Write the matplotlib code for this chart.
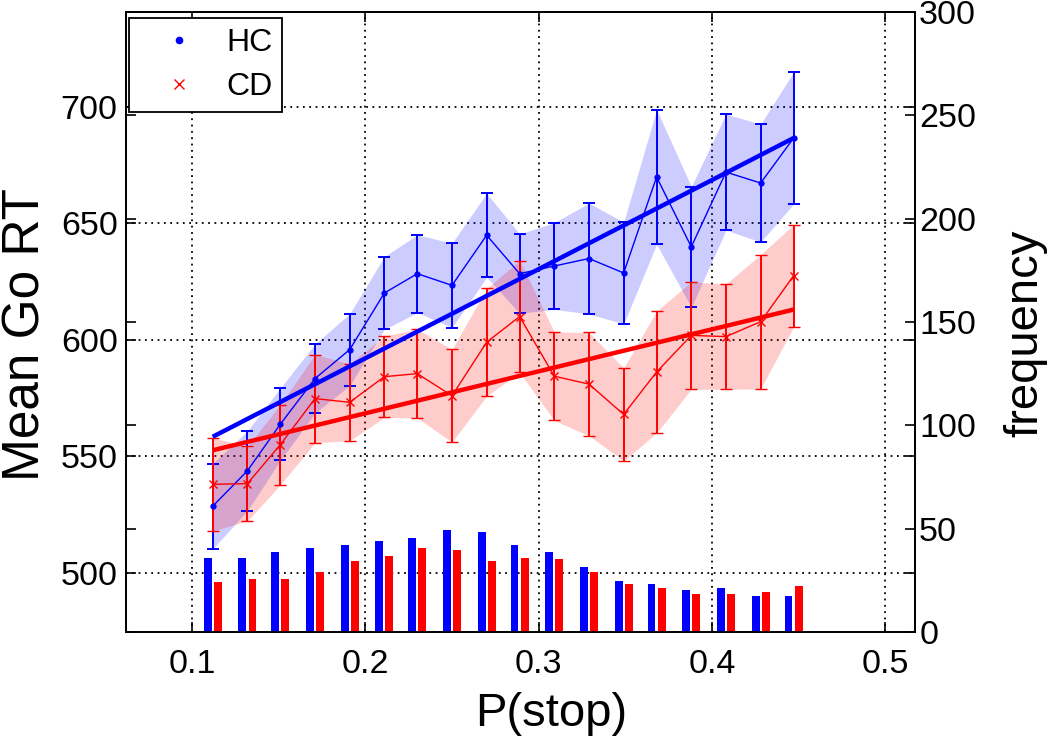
import matplotlib
matplotlib.use("Agg")
import matplotlib.pyplot as plt
from matplotlib.lines import Line2D
import numpy as np

plt.rcParams['font.family'] = ['Liberation Sans', 'DejaVu Sans']

# ---- data ----
p_stop = [0.112, 0.132, 0.151, 0.171, 0.191, 0.211, 0.230, 0.250, 0.270,
          0.289, 0.309, 0.329, 0.349, 0.368, 0.388, 0.408, 0.428, 0.447]

hc_mean = [528.6, 543.8, 563.8, 583.4, 595.8, 620.1, 628.4, 623.4, 644.9,
           628.4, 631.7, 634.9, 628.7, 669.9, 639.9, 672.0, 667.3, 686.6]
hc_err = [18.3, 17.1, 15.5, 14.8, 15.4, 15.6, 16.7, 18.1, 18.0,
          17.0, 18.6, 23.8, 21.8, 28.9, 25.9, 24.9, 25.3, 28.3]

cd_mean = [538.0, 538.3, 555.0, 574.8, 573.2, 584.2, 585.5, 576.0, 599.0,
           610.0, 584.4, 581.0, 568.0, 586.2, 601.9, 601.4, 607.8, 627.5]
cd_err = [20.0, 16.0, 17.2, 18.9, 16.5, 17.5, 19.0, 19.9, 23.1,
          24.0, 19.0, 22.2, 19.9, 26.2, 23.0, 22.6, 28.8, 22.0]

# linear fits (end points)
fit_x = [0.112, 0.447]
hc_fit = [558.4, 686.6]
cd_fit = [552.6, 613.0]

hc_freq = [36.0, 36.0, 38.6, 40.5, 42.1, 43.9, 45.7, 49.2, 48.2,
           42.1, 38.6, 31.6, 24.7, 23.1, 20.3, 21.1, 17.6, 17.6]
cd_freq = [24.4, 25.5, 25.5, 28.9, 34.2, 36.8, 40.5, 39.5, 34.2,
           36.0, 35.2, 28.9, 23.1, 21.1, 18.5, 18.5, 19.4, 22.1]

labels = ['HC', 'CD']
x_ticks = [0.1, 0.2, 0.3, 0.4, 0.5]
rt_ticks = [500, 550, 600, 650, 700]
freq_ticks = [0, 50, 100, 150, 200, 250, 300]

# ---- figure ----
fig = plt.figure(figsize=(10.5, 7.42), dpi=100)
ax1 = fig.add_axes([0.12, 0.1482, 0.7514, 0.8356])
ax2 = ax1.twinx()

x = np.array(p_stop)
hm, he = np.array(hc_mean), np.array(hc_err)
cm, ce = np.array(cd_mean), np.array(cd_err)

ax1.fill_between(x, hm - he, hm + he, color='blue', alpha=0.2, lw=0, zorder=1)
ax1.fill_between(x, cm - ce, cm + ce, color='red', alpha=0.2, lw=0, zorder=1)

ax1.errorbar(x, hm, yerr=he, color='blue', marker='.', ms=7, lw=1.0,
             elinewidth=1.4, capsize=4, capthick=1.4, zorder=3)
ax1.errorbar(x, cm, yerr=ce, color='red', marker='x', ms=6, mew=1.0, lw=1.0,
             elinewidth=1.4, capsize=4, capthick=1.4, zorder=3)
ax1.plot(fit_x, hc_fit, color='blue', lw=3.2, solid_capstyle='butt', zorder=4)
ax1.plot(fit_x, cd_fit, color='red', lw=3.2, solid_capstyle='butt', zorder=4)

ax1.set_xlim(0.062, 0.517)
ax1.set_ylim(474.6, 740.7)
ax1.set_xticks(x_ticks)
ax1.set_xticklabels([f'{t:g}' for t in x_ticks])
ax1.set_yticks(rt_ticks)
ax1.grid(True, color='black', linestyle=(0, (1, 2.5)), linewidth=1.3)
ax1.set_axisbelow(True)

bw = 0.0045
off = 0.0029
ax2.bar(x - off, hc_freq, width=bw, color='blue', linewidth=0)
ax2.bar(x + off, cd_freq, width=bw, color='red', linewidth=0)
ax2.set_ylim(0, 300)
ax2.set_yticks(freq_ticks)

for ax in (ax1, ax2):
    for s in ax.spines.values():
        s.set_linewidth(1.3)
        s.set_color('black')

ax1.tick_params(axis='both', direction='in', length=7, width=1.2,
                labelsize=24.5, top=True, right=True, labelright=False)
ax1.tick_params(axis='y', pad=6)
ax1.tick_params(axis='x', pad=12)
ax2.tick_params(axis='y', direction='in', length=7, width=1.2, labelsize=24.5,
                left=True, right=True, labelleft=False, labelright=True, pad=3)

ax1.set_xlabel('P(stop)', fontsize=34)
ax1.xaxis.set_label_coords(0.539, -0.097)
ax1.set_ylabel('Mean Go RT', fontsize=37)
ax1.yaxis.set_label_coords(-0.096, 0.479)
ax2.set_ylabel('frequency', fontsize=34)
ax2.yaxis.set_label_coords(1.1115, 0.481)

handles = [Line2D([], [], color='blue', marker='.', ms=9, ls='none'),
           Line2D([], [], color='red', marker='x', ms=7, mew=1.0, ls='none')]
leg = ax1.legend(handles, labels, loc='upper left',
                 bbox_to_anchor=(0.0038, 0.990), borderaxespad=0,
                 fontsize=23, frameon=True, fancybox=False, framealpha=1,
                 edgecolor='black', borderpad=0.3, handlelength=2.5,
                 handletextpad=0.25, labelspacing=0.45)
leg.get_frame().set_linewidth(1.3)
leg.set_zorder(10)

fig.savefig('out.png', dpi=100)
